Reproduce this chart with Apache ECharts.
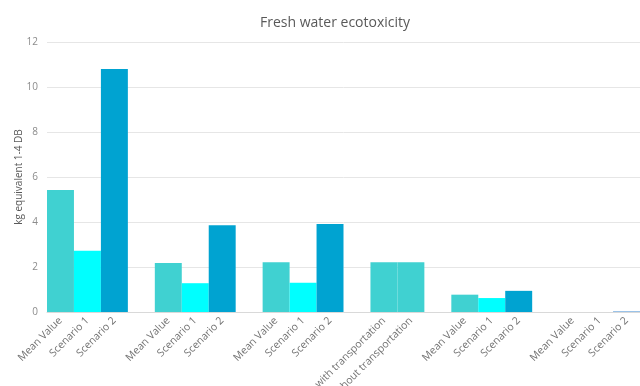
<!DOCTYPE html>
<html>
<head>
<meta charset="utf-8">
<script src="https://cdn.jsdelivr.net/npm/echarts@6/dist/echarts.min.js"></script>
<style>
  html, body { margin: 0; padding: 0; background: #fff; }
  #chart { width: 640px; height: 386px; }
</style>
</head>
<body>
<div id="chart"></div>
<script>
// one slot per bar, empty strings are the gaps between groups
const categories = [
  'Mean Value', 'Scenario 1', 'Scenario 2', '',
  'Mean Value', 'Scenario 1', 'Scenario 2', '',
  'Mean Value', 'Scenario 1', 'Scenario 2', '',
  'with transportation', 'without transportation', '',
  'Mean Value', 'Scenario 1', 'Scenario 2', '',
  'Mean Value', 'Scenario 1', 'Scenario 2'
]
const values = [
  5.42, 2.72, 10.8, null,
  2.18, 1.28, 3.86, null,
  2.21, 1.3, 3.91, null,
  2.21, 2.21, null,
  0.77, 0.62, 0.94, null,
  0, 0, 0.04
]
const yTicks = { min: 0, max: 12, interval: 2 }

const colorFor = (name, i) => {
  if (name === 'Scenario 1') return '#00ffff'
  if (name === 'Scenario 2') return i === categories.length - 1 ? '#8fbce6' : '#00a3d1'
  return '#40d1d1'
}

const chart = echarts.init(document.getElementById('chart'))
chart.setOption({
  animation: false,
  textStyle: { fontFamily: 'Open Sans' },
  title: {
    text: 'Fresh water ecotoxicity',
    left: 330,
    textAlign: 'center',
    top: 11,
    textStyle: { fontSize: 14, fontWeight: 'normal', color: '#595959', fontFamily: 'Open Sans' }
  },
  grid: { left: 47, right: 0, top: 42, bottom: 74, outerBoundsMode: 'none', containLabel: false },
  xAxis: {
    type: 'category',
    data: categories,
    axisTick: { show: false },
    axisLine: { lineStyle: { color: '#d9d9d9' } },
    axisLabel: { interval: 0, rotate: 45, fontSize: 10.5, color: '#737373', margin: 7 }
  },
  yAxis: {
    type: 'value',
    min: yTicks.min,
    max: yTicks.max,
    interval: yTicks.interval,
    name: 'kg equivalent 1-4 DB',
    nameLocation: 'middle',
    nameGap: 23,
    nameMoveOverlap: false,
    nameTextStyle: { fontSize: 10, color: '#595959' },
    axisLabel: { fontSize: 10, color: '#8c8c8c', margin: 9 },
    splitLine: { lineStyle: { color: '#e6e6e6' } }
  },
  series: [{
    type: 'bar',
    barWidth: '100%',
    data: values.map((v, i) => ({
      value: v,
      itemStyle: { color: colorFor(categories[i], i) }
    }))
  }]
})
</script>
</body>
</html>
